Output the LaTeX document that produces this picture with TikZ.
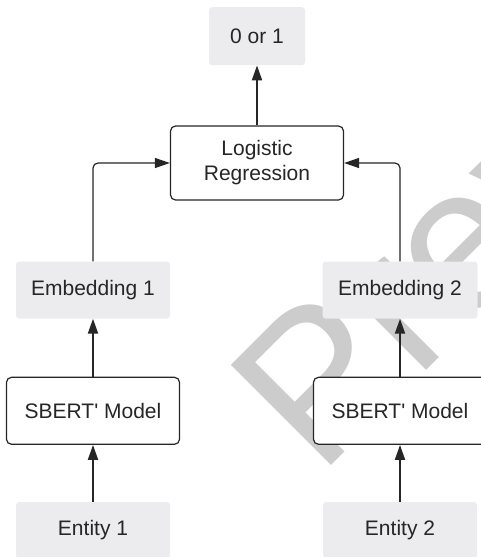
\documentclass[tikz,border=0pt]{standalone}
\usepackage{fontspec}
\setmainfont{Liberation Sans}
\usepackage{tikz}
\usetikzlibrary{arrows.meta,positioning}
\definecolor{boxgray}{RGB}{236,236,238}
\definecolor{inkgray}{RGB}{38,38,38}
\definecolor{markgray}{RGB}{204,204,204}
\tikzstyle{block}=[draw=inkgray, line width=1.2pt, fill=white, rounded corners=5pt, minimum width=173pt, align=center, inner sep=0]
\tikzstyle{io}=[fill=boxgray, rounded corners=3pt, minimum width=154pt, minimum height=57pt, align=center, inner sep=0]
\tikzstyle{feed}=[->, line width=2pt, draw=inkgray]
\tikzstyle{link}=[->, line width=1.2pt, draw=inkgray, rounded corners=5pt]

\begin{document}
\begin{tikzpicture}[x=1pt,y=1pt,>={Triangle[length=15pt,width=10pt]},font=\fontsize{21}{25}\selectfont,text=inkgray]
        \useasboundingbox (0,0) rectangle (481,-557);
        % watermark, behind the boxes
        \node [text=markgray, font=\fontsize{206}{206}\selectfont, inner sep=0, rotate=45, anchor=base west] (wmark) at (319,-478) {Preview};

        \node [block, minimum height=74pt] (lr) at (257,-163) {Logistic\\Regression};
        \node [io, minimum width=96pt, minimum height=58pt] (out) [above=60pt of lr] {0 or 1};
        \node [io] (emb1) at (93,-290) {Embedding 1};
        \node [io, minimum width=155pt] (emb2) at (400,-290) {Embedding 2};
        \node [block, minimum height=67pt] (sb1) [below=58pt of emb1] {SBERT\textquotesingle{} Model};
        \node [block, minimum height=67pt] (sb2) [below=58pt of emb2] {SBERT\textquotesingle{} Model};
        \node [io, minimum height=56pt] (ent1) [below=57pt of sb1] {Entity 1};
        \node [io, minimum height=56pt] (ent2) [below=57pt of sb2] {Entity 2};

        \draw[feed] (lr) -- (out);
        \draw[feed] (sb1) -- (emb1);
        \draw[feed] (sb2) -- (emb2);
        \draw[feed] (ent1) -- (sb1);
        \draw[feed] (ent2) -- (sb2);
        \draw[link] (emb1.north) |- (lr.west);
        \draw[link] (emb2.north) |- (lr.east);
\end{tikzpicture}
\end{document}
